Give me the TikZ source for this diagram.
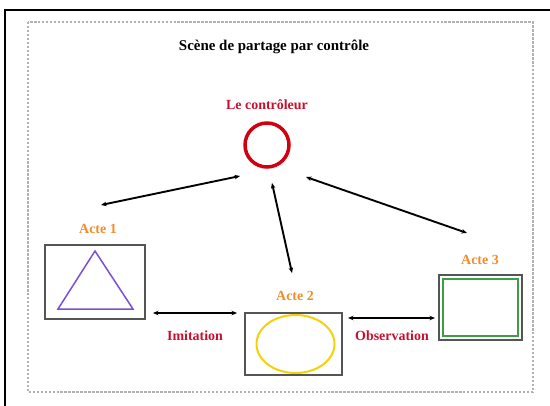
\documentclass[tikz,border=0pt]{standalone}
\usepackage{fontspec}
\setmainfont{Liberation Serif}
\usetikzlibrary{arrows.meta}
\definecolor{ctrlred}{HTML}{D00010}
\definecolor{labred}{HTML}{C8102E}
\definecolor{acteorange}{HTML}{F28C28}
\definecolor{tripurple}{HTML}{7B4FD6}
\definecolor{ellyellow}{HTML}{F5D10A}
\definecolor{rectgreen}{HTML}{3E9E45}
\definecolor{framegray}{HTML}{555555}
\tikzset{
  lbl/.style={font=\bfseries\fontsize{14}{16}\selectfont, inner sep=0pt},
  actelbl/.style={lbl, text=acteorange},
  redlbl/.style={lbl, text=labred},
  actebox/.style={draw=framegray, line width=1.6pt, fill=white},
  link/.style={line width=1.9pt, {Stealth[length=5.5pt,width=4.5pt]}-{Stealth[length=5.5pt,width=4.5pt]}}
}
\begin{document}
\begin{tikzpicture}[x=1bp,y=-1bp]
\useasboundingbox (0,0) rectangle (550,405);
% outer frame and dotted panel
\begin{scope}
\clip (0,0) rectangle (550,405);
\draw[line width=2pt] (5,10) rectangle (570,430);
\end{scope}
\draw[gray!60, line width=1.3pt, dash pattern=on 2.5pt off 1.5pt] (28,22) rectangle (533,392);
% title
\node[lbl, font=\bfseries\fontsize{15}{17}\selectfont] (title) at (274,47) {Scène de partage par contrôle};
% controller
\node[redlbl] (ctrllbl) at (267,105) {Le contrôleur};
\node[circle, draw=ctrlred, line width=3.5pt, minimum size=44bp, inner sep=0pt] (ctrl) at (267,145) {};
% act 1
\node[actelbl] (lbl1) at (98,229) {Acte 1};
\node[actebox, minimum width=100bp, minimum height=74bp, inner sep=0pt] (box1) at (95,282) {};
\draw[tripurple, line width=1.5pt] (95,251) -- (133,309) -- (58,309) -- cycle;
% act 2
\node[actelbl] (lbl2) at (295,296) {Acte 2};
\node[actebox, minimum width=97bp, minimum height=62bp, inner sep=0pt] (box2) at (293.5,344) {};
\draw[ellyellow, line width=2pt] (295.5,344) ellipse [x radius=39, y radius=29];
% act 3
\node[actelbl] (lbl3) at (480,260) {Acte 3};
\node[actebox, line width=2.6pt, minimum width=83bp, minimum height=65bp, inner sep=0pt] (box3) at (480.5,307.5) {};
\draw[rectgreen, line width=2.2pt] (443,279) rectangle (518,336);
% relation labels
\node[redlbl] (imit) at (195,336) {Imitation};
\node[redlbl] (obs) at (392,336) {Observation};
% connector ends
\coordinate (c1) at (240,176);
\coordinate (a1) at (101,205);
\coordinate (c3) at (306,177);
\coordinate (a3) at (467,233);
\coordinate (c2) at (272,183);
\coordinate (a2) at (292,273);
\coordinate (i1) at (153,313);
\coordinate (i2) at (237,313);
\coordinate (o1) at (348,318);
\coordinate (o2) at (435,318);
\draw[link] (a1) -- (c1);
\draw[link] (c3) -- (a3);
\draw[link] (c2) -- (a2);
\draw[link] (i1) -- (i2);
\draw[link] (o1) -- (o2);
\end{tikzpicture}
\end{document}
